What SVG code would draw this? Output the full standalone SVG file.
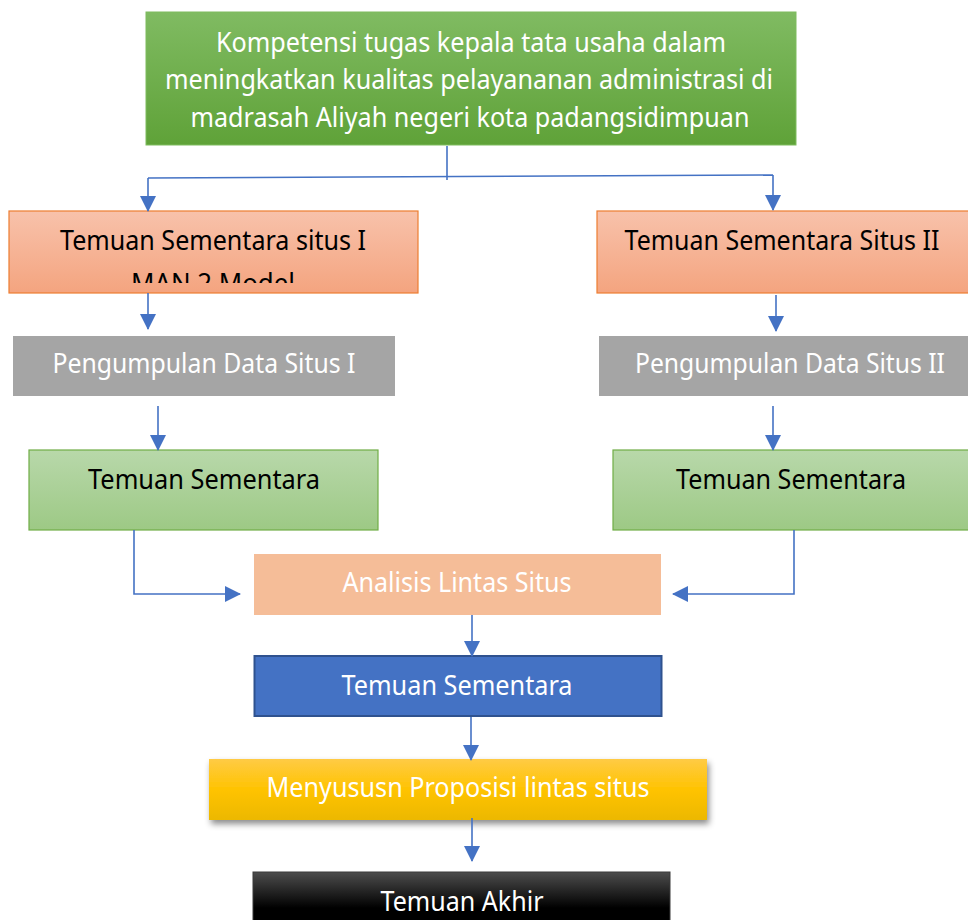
<svg xmlns="http://www.w3.org/2000/svg" width="968" height="920" viewBox="0 0 968 920">
<style>
text{font-family:"Noto Sans","Open Sans",sans-serif;font-size:27px;text-anchor:middle}
.w{fill:#ffffff}
.k{fill:#000000}
.c{fill:none;stroke:#4472c4;stroke-width:1.6}
</style>
<defs>
<linearGradient id="gTop" x1="0" y1="0" x2="0" y2="1"><stop offset="0" stop-color="#80bb62"/><stop offset="1" stop-color="#5fa238"/></linearGradient>
<linearGradient id="gOr" x1="0" y1="0" x2="0" y2="1"><stop offset="0" stop-color="#f8c2ab"/><stop offset="1" stop-color="#f4a47f"/></linearGradient>
<linearGradient id="gGr" x1="0" y1="0" x2="0" y2="1"><stop offset="0" stop-color="#b8d8aa"/><stop offset="1" stop-color="#9dc985"/></linearGradient>
<linearGradient id="gYe" x1="0" y1="0" x2="0" y2="1"><stop offset="0" stop-color="#ffcb45"/><stop offset="0.5" stop-color="#ffc300"/><stop offset="1" stop-color="#ecb800"/></linearGradient>
<linearGradient id="gBk" x1="0" y1="0" x2="0" y2="1"><stop offset="0" stop-color="#4d4d4d"/><stop offset="0.6" stop-color="#000000"/><stop offset="1" stop-color="#000000"/></linearGradient>
<filter id="sh" x="-5%" y="-20%" width="110%" height="160%"><feDropShadow dx="2" dy="4" stdDeviation="3" flood-color="#000" flood-opacity="0.45"/></filter>
<clipPath id="clipL"><rect x="9" y="211" width="409" height="72"/></clipPath>
<marker id="ah" markerUnits="userSpaceOnUse" markerWidth="16" markerHeight="16" viewBox="0 0 16 16" refX="15" refY="8" orient="auto"><path d="M0,0 L16,8 L0,16 Z" fill="#4472c4"/></marker>
</defs>

<g id="top">
<rect x="146" y="12" width="650" height="133" fill="url(#gTop)" stroke="#7fbc5f" stroke-width="1"/>
<text class="w" x="471" y="52" textLength="510" lengthAdjust="spacingAndGlyphs">Kompetensi tugas kepala tata usaha dalam</text>
<text class="w" x="469" y="89" textLength="608" lengthAdjust="spacingAndGlyphs">meningkatkan kualitas pelayananan administrasi di</text>
<text class="w" x="470" y="127" textLength="559" lengthAdjust="spacingAndGlyphs">madrasah Aliyah negeri kota padangsidimpuan</text>
</g>

<g id="situs1">
<rect x="9" y="211" width="409" height="82" fill="url(#gOr)" stroke="#ed7d31" stroke-width="1.2"/>
<text class="k" x="213" y="250" textLength="306" lengthAdjust="spacingAndGlyphs">Temuan Sementara situs I</text>
<g clip-path="url(#clipL)"><text class="k" x="213" y="293" textLength="164" lengthAdjust="spacingAndGlyphs">MAN 2 Model</text></g>
</g>

<g id="situs2">
<rect x="597" y="211" width="372" height="82" fill="url(#gOr)" stroke="#ed7d31" stroke-width="1.2"/>
<text class="k" x="782" y="250" textLength="315" lengthAdjust="spacingAndGlyphs">Temuan Sementara Situs II</text>
</g>

<g id="data1">
<rect x="13" y="336" width="382" height="60" fill="#a5a5a5"/>
<text class="w" x="204" y="373" textLength="303" lengthAdjust="spacingAndGlyphs">Pengumpulan Data Situs I</text>
</g>

<g id="data2">
<rect x="599" y="336" width="370" height="60" fill="#a5a5a5"/>
<text class="w" x="790" y="373" textLength="310" lengthAdjust="spacingAndGlyphs">Pengumpulan Data Situs II</text>
</g>

<g id="temuan1">
<rect x="29" y="450" width="349" height="80" fill="url(#gGr)" stroke="#70ad47" stroke-width="1.2"/>
<text class="k" x="204" y="489" textLength="232" lengthAdjust="spacingAndGlyphs">Temuan Sementara</text>
</g>

<g id="temuan2">
<rect x="613" y="450" width="356" height="80" fill="url(#gGr)" stroke="#70ad47" stroke-width="1.2"/>
<text class="k" x="791" y="489" textLength="230" lengthAdjust="spacingAndGlyphs">Temuan Sementara</text>
</g>

<g id="analisis">
<rect x="254" y="554" width="407" height="61" fill="#f5bd98"/>
<text class="w" x="457" y="592" textLength="229" lengthAdjust="spacingAndGlyphs">Analisis Lintas Situs</text>
</g>

<g id="temuan3">
<rect x="254.5" y="656" width="407" height="60" fill="#4472c4" stroke="#2f528f" stroke-width="2"/>
<text class="w" x="457" y="695" textLength="231" lengthAdjust="spacingAndGlyphs">Temuan Sementara</text>
</g>

<g id="proposisi">
<rect x="209" y="759" width="498" height="61" fill="url(#gYe)" filter="url(#sh)"/>
<text class="w" x="458" y="797" textLength="383" lengthAdjust="spacingAndGlyphs">Menyususn Proposisi lintas situs</text>
</g>

<g id="akhir">
<rect x="253" y="872" width="417" height="60" fill="url(#gBk)" stroke="#3a3a3a" stroke-width="1"/>
<text class="w" x="462" y="911" textLength="163" lengthAdjust="spacingAndGlyphs">Temuan Akhir</text>
</g>

<g id="connectors">
<path class="c" d="M447,146 L447,180"/>
<path class="c" d="M148,178 L773,175"/>
<path class="c" d="M148,178 L148,211" marker-end="url(#ah)"/>
<path class="c" d="M773,175 L773,210" marker-end="url(#ah)"/>
<path class="c" d="M148,293 L148,329" marker-end="url(#ah)"/>
<path class="c" d="M776,295 L776,331" marker-end="url(#ah)"/>
<path class="c" d="M158,406 L158,450" marker-end="url(#ah)"/>
<path class="c" d="M773,406 L773,450" marker-end="url(#ah)"/>
<path class="c" d="M134,530 L134,594 L240,594" marker-end="url(#ah)"/>
<path class="c" d="M794,530 L794,594 L673,594" marker-end="url(#ah)"/>
<path class="c" d="M472,615 L472,656" marker-end="url(#ah)"/>
<path class="c" d="M471,717 L471,760" marker-end="url(#ah)"/>
<path class="c" d="M472,818 L472,861" marker-end="url(#ah)"/>
</g>
</svg>
